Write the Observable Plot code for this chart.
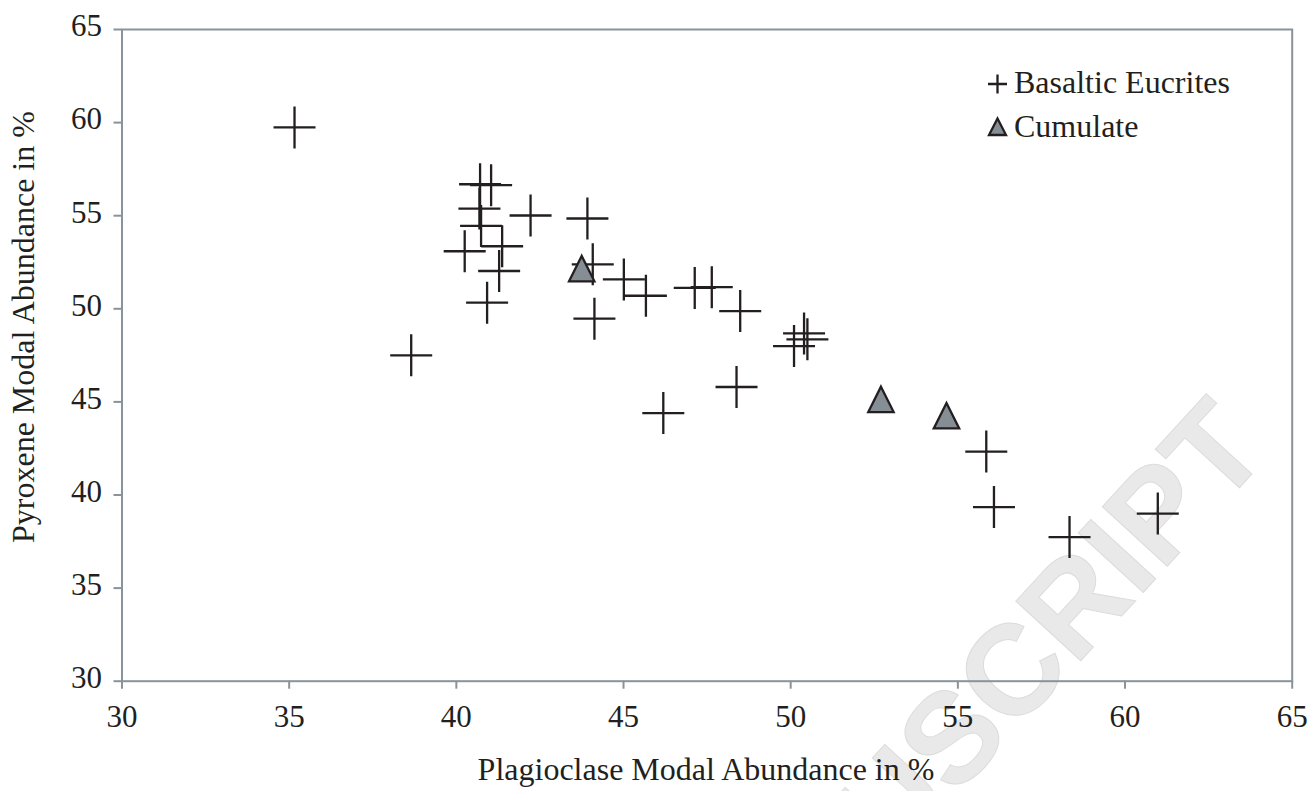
<!DOCTYPE html>
<html>
<head>
<meta charset="utf-8">
<script src="https://cdn.jsdelivr.net/npm/d3@7"></script>
<script src="https://cdn.jsdelivr.net/npm/@observablehq/plot@0.6"></script>
<style>
  html, body { margin: 0; padding: 0; background: #fff; }
  #chart { position: relative; width: 1316px; height: 791px; }
  #chart svg text { font-family: "Liberation Serif", "Times New Roman", serif !important; }
  #chart svg [aria-label^="x-axis"] text,
  #chart svg [aria-label^="y-axis"] text { font-size: 31px !important; font-variant: normal !important; }
  #chart svg text.wm { font-family: "Liberation Sans", Arial, sans-serif !important; font-weight: bold; font-size: 128px !important; }
</style>
</head>
<body>
<div id="chart"></div>
<script>
// ---- data ----
const xTicks = [30, 35, 40, 45, 50, 55, 60, 65];
const yTicks = [30, 35, 40, 45, 50, 55, 60, 65];

const eucriteX = [35.16, 38.65, 40.71, 41.04, 40.69, 40.74, 41.37, 40.25, 41.28, 40.92,
                  42.22, 43.92, 44.08, 45.01, 45.67, 44.13, 47.13, 47.64, 48.49, 46.19,
                  48.38, 50.10, 50.40, 50.50, 55.85, 56.08, 58.34, 60.98];
const eucriteY = [59.74, 47.50, 56.69, 56.64, 55.38, 54.45, 53.36, 53.09, 52.03, 50.33,
                  55.01, 54.85, 52.39, 51.58, 50.70, 49.47, 51.12, 51.16, 49.88, 44.40,
                  45.80, 48.00, 48.68, 48.36, 42.33, 39.35, 37.74, 39.00];
const cumulateX = [43.75, 52.70, 54.66];
const cumulateY = [51.93, 44.91, 44.03];

const seriesNames = ["Basaltic Eucrites", "Cumulate"];
const xTitle = "Plagioclase Modal Abundance in %";
const yTitle = "Pyroxene Modal Abundance in %";
const watermark = "ACCEPTED MANUSCRIPT";

// ---- tables ----
const eucrites = eucriteX.map((x, i) => ({x, y: eucriteY[i]}));
const cumulates = cumulateX.map((x, i) => ({x, y: cumulateY[i]}));

const ink = "#231f20";
const frameGray = "#8a9399";
const triFill = "#868e95";
const font = "Liberation Serif, Times New Roman, serif";

const plusSymbol = {
  draw(context, size) {
    const h = Math.sqrt(size / Math.PI);
    context.moveTo(-h, 0); context.lineTo(h, 0);
    context.moveTo(0, -h); context.lineTo(0, h);
  }
};
const triSymbol = {
  draw(context, size) {
    const r = Math.sqrt(size / Math.PI);
    context.moveTo(0, -4 / 3 * r);
    context.lineTo(r, 2 / 3 * r);
    context.lineTo(-r, 2 / 3 * r);
    context.closePath();
  }
};

const chart = Plot.plot({
  width: 1316,
  height: 791,
  marginLeft: 121.5,
  marginRight: 24.3,
  marginTop: 29,
  marginBottom: 110.3,
  style: {fontFamily: font, fontSize: "31px", color: ink, background: "white", overflow: "visible"},
  x: {domain: [30, 65], ticks: xTicks, tickSize: 8, tickPadding: 16, label: null, tickFormat: d => String(d)},
  y: {domain: [30, 65], ticks: yTicks, tickSize: 8, tickPadding: 12, label: null, tickFormat: d => String(d)},
  marks: [
    Plot.frame({stroke: frameGray, strokeWidth: 2}),
    Plot.dot(eucrites, {x: "x", y: "y", r: 21, symbol: plusSymbol, fill: "none", stroke: ink, strokeWidth: 2.3}),
    Plot.dot(cumulates, {x: "x", y: "y", r: 12.7, symbol: triSymbol, fill: triFill, stroke: ink, strokeWidth: 2.3})
  ]
});

document.getElementById("chart").appendChild(chart);

const svg = d3.select(chart);

// axis tick colour and label colour
svg.selectAll('[aria-label^="x-axis"] path, [aria-label^="x-axis"] line, [aria-label^="y-axis"] path, [aria-label^="y-axis"] line')
  .attr("stroke", frameGray).attr("stroke-width", 2);
svg.selectAll('[aria-label^="x-axis"] text, [aria-label^="y-axis"] text').attr("fill", ink);
svg.selectAll('[aria-label^="y-axis"] text').attr("dy", "-0.1em");

// watermark behind the marks
const wm = svg.insert("g", ":first-child").attr("pointer-events", "none");
wm.append("text")
  .attr("class", "wm")
  .attr("transform", "translate(1272,452) rotate(-47.5)")
  .attr("text-anchor", "end")
  .attr("fill", "#e9e9e9")
  .attr("stroke", "#dcdcdc")
  .attr("stroke-width", 1)
  .text(watermark);
svg.insert("rect", ":first-child").attr("width", 1316).attr("height", 791).attr("fill", "white");

function addText(g, x, y, str, anchor, transform) {
  const t = g.append("text")
    .attr("text-anchor", anchor)
    .attr("fill", ink)
    .style("font-size", "32px")
    .text(str);
  if (transform) t.attr("transform", transform); else t.attr("x", x).attr("y", y);
  return t;
}

// axis titles
addText(svg, 706, 780, xTitle, "middle");
addText(svg, 0, 0, yTitle, "start", "translate(33.5,543) rotate(-90)");

// legend
const lg = svg.append("g");
lg.append("path")
  .attr("d", "M988,84H1007M997.5,74.5V93.5")
  .attr("stroke", ink).attr("stroke-width", 2.3).attr("fill", "none");
addText(lg, 1014, 93, seriesNames[0], "start");
lg.append("path")
  .attr("d", "M997.5,118.5L1006,135L989,135Z")
  .attr("stroke", ink).attr("stroke-width", 2.3).attr("fill", triFill);
addText(lg, 1014, 137, seriesNames[1], "start");
</script>
</body>
</html>
